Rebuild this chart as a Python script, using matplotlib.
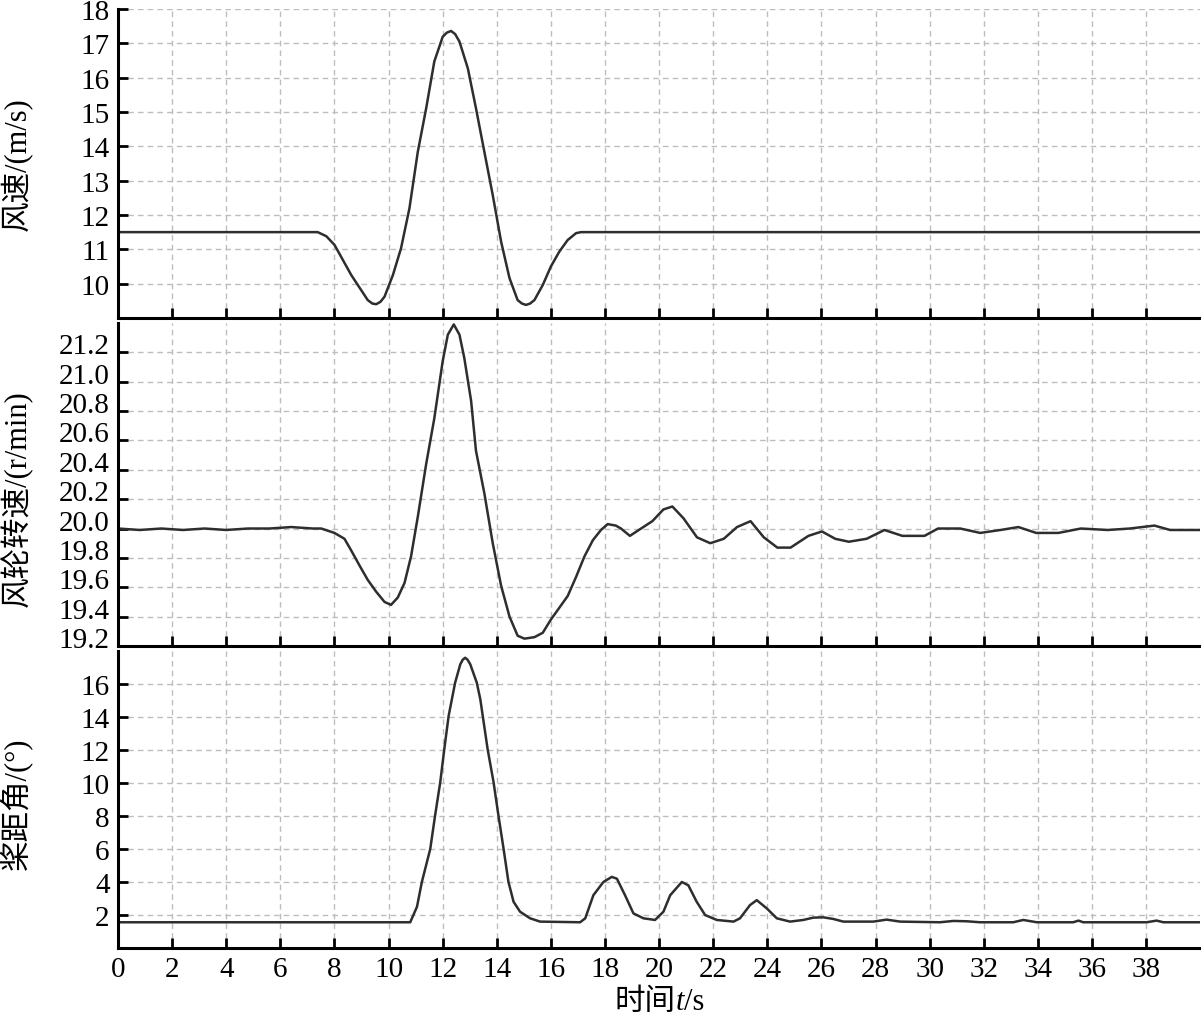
import matplotlib
matplotlib.use("Agg")
import matplotlib.pyplot as plt
import matplotlib.transforms as mtransforms
import numpy as np
from matplotlib.offsetbox import TextArea, HPacker, AnchoredOffsetbox

plt.rcParams['font.family'] = ['Liberation Serif', 'Noto Sans CJK SC']

# 风速 (m/s)
t1 = [0, 7.38, 7.7, 8.0, 8.62, 9.23, 9.4, 9.54, 9.7, 9.85, 10.16, 10.46, 10.77, 11.08, 11.39, 11.69,
      12.0, 12.15, 12.31, 12.46, 12.62, 12.93, 13.23, 13.54, 13.85, 14.16, 14.47, 14.77, 14.93, 15.08,
      15.23, 15.39, 15.7, 16.0, 16.31, 16.62, 16.93, 17.11, 40]
v1 = [11.5, 11.5, 11.38, 11.13, 10.25, 9.52, 9.42, 9.40, 9.47, 9.62, 10.25, 11.03, 12.19, 13.84, 15.11, 16.47,
      17.19, 17.31, 17.36, 17.27, 17.05, 16.27, 15.11, 13.84, 12.58, 11.22, 10.16, 9.52, 9.42, 9.38,
      9.42, 9.52, 9.96, 10.50, 10.93, 11.27, 11.47, 11.5, 11.5]

# 风轮转速 (r/min)
t2 = [0, 0.8, 1.6, 2.4, 3.2, 4.0, 4.8, 5.6, 6.4, 7.2,
      7.51, 8.0, 8.37, 8.62, 8.92, 9.23, 9.54, 9.85, 10.09, 10.34,
      10.59, 10.83, 11.08, 11.39, 11.69, 12.0, 12.19, 12.41, 12.62, 12.8,
      13.05, 13.23, 13.54, 13.85, 14.16, 14.47, 14.77, 15.02, 15.39, 15.7,
      16.0, 16.31, 16.62, 16.93, 17.24, 17.55, 17.85, 18.1, 18.4, 18.59,
      18.92, 19.25, 19.75, 20.16, 20.49, 20.9, 21.4, 21.89, 22.39, 22.88,
      23.38, 23.87, 24.37, 24.86, 25.52, 26.02, 26.51, 27.01, 27.67, 28.33,
      28.99, 29.81, 30.31, 31.13, 31.87, 32.62, 33.28, 33.94, 34.76, 35.59,
      36.58, 37.4, 38.31, 38.89, 40]
v2 = [20.0, 19.99, 20.0, 19.99, 20.0, 19.99, 20.0, 20.0, 20.01, 20.0,
      20.0, 19.97, 19.93, 19.85, 19.75, 19.65, 19.57, 19.50, 19.48, 19.53,
      19.63, 19.81, 20.08, 20.44, 20.75, 21.14, 21.32, 21.39, 21.32, 21.16,
      20.87, 20.53, 20.24, 19.90, 19.61, 19.40, 19.27, 19.25, 19.26, 19.29,
      19.38, 19.46, 19.54, 19.67, 19.81, 19.92, 19.99, 20.03, 20.02, 20.0,
      19.95, 19.99, 20.05, 20.13, 20.15, 20.07, 19.94, 19.90, 19.93, 20.01,
      20.05, 19.94, 19.87, 19.87, 19.95, 19.98, 19.93, 19.91, 19.93, 19.99,
      19.95, 19.95, 20.0, 20.0, 19.97, 19.99, 20.01, 19.97, 19.97, 20.0,
      19.99, 20.0, 20.02, 19.99, 19.99]

# 桨距角 (°)
t3 = [0, 10.80, 11.05, 11.23, 11.54, 11.72, 11.91, 12.06, 12.22, 12.46,
      12.65, 12.74, 12.83, 12.92, 13.02, 13.26, 13.39, 13.66, 13.88, 14.06, 14.25, 14.43,
      14.62, 14.86, 15.23, 15.6, 17.08, 17.27, 17.57, 17.94, 18.25, 18.44,
      18.74, 19.05, 19.42, 19.85, 20.16, 20.41, 20.84, 21.08, 21.39, 21.7,
      22.13, 22.75, 22.99, 23.36, 23.61, 23.98, 24.35, 24.84, 25.33, 25.7,
      26.07, 26.44, 26.81, 27.92, 28.41, 28.91, 30.38, 30.88, 31.37, 31.86,
      33.09, 33.46, 33.96, 35.31, 35.5, 35.68, 38.02, 38.39, 38.64, 40]
v3 = [1.56, 1.56, 2.5, 4.0, 6.0, 8.04, 10.05, 12.06, 14.07, 16.08,
      17.19, 17.47, 17.59, 17.47, 17.19, 16.08, 15.08, 12.06, 10.05, 8.04, 6.02, 4.01,
      2.8, 2.2, 1.8, 1.6, 1.56, 1.8, 3.2, 4.0, 4.31, 4.2,
      3.2, 2.1, 1.8, 1.7, 2.2, 3.2, 4.0, 3.8, 2.8, 2.0,
      1.7, 1.6, 1.8, 2.6, 2.9, 2.4, 1.8, 1.6, 1.7, 1.84,
      1.86, 1.76, 1.6, 1.6, 1.72, 1.6, 1.56, 1.64, 1.62, 1.56,
      1.56, 1.7, 1.56, 1.56, 1.66, 1.56, 1.56, 1.66, 1.56, 1.56]

ylabels = ["风速/(m/s)", "风轮转速/(r/min)", "桨距角/(°)"]
xticks = list(range(0, 40, 2))

fig = plt.figure(figsize=(12.01, 10.2), dpi=100)
ax1 = fig.add_axes([0.0983, 0.6873, 0.901, 0.3029])
ax2 = fig.add_axes([0.0983, 0.3657, 0.901, 0.3167])
ax3 = fig.add_axes([0.0983, 0.0696, 0.901, 0.2912])

line_col = "#2e2e2e"
ax1.plot(t1, v1, color=line_col, lw=1.8)
ax2.plot(t2, v2, color=line_col, lw=1.8)
ax3.plot(t3, v3, color=line_col, lw=1.8)

ax1.set_ylim(9.0, 18)
ax1.set_yticks(range(10, 19))
ax2.set_ylim(19.2, 21.4)
ax2.set_yticks(np.arange(19.2, 21.25, 0.2))
ax2.set_yticklabels(["%.1f" % v for v in np.arange(19.2, 21.25, 0.2)])
ax3.set_ylim(0, 18)
ax3.set_yticks(range(2, 18, 2))

label_y = [0.5, 0.46, 0.49]
for ax, lab, ly in zip([ax1, ax2, ax3], ylabels, label_y):
    ax.set_xlim(0, 40)
    ax.set_xticks(xticks)
    ax.grid(True, color="#bdbdbd", linestyle=(0, (4, 3)), linewidth=1.0)
    ax.spines["top"].set_visible(False)
    ax.spines["right"].set_visible(False)
    ax.spines["left"].set_linewidth(2.2)
    ax.spines["bottom"].set_linewidth(2.2)
    ax.tick_params(direction="in", length=7, width=2, labelsize=21, pad=6)
    ax.set_ylabel(lab, fontsize=22)
    ax.yaxis.set_label_coords(-0.079, ly)
    if ax is not ax3:
        ax.tick_params(labelbottom=False)

# in the original the middle panel's tick labels sit a little above their ticks
shift = mtransforms.ScaledTranslation(0, 0.09, fig.dpi_scale_trans)
for lbl in ax2.get_yticklabels():
    lbl.set_transform(lbl.get_transform() + shift)

# x label: 时间t/s with italic t
parts = [TextArea("时间", textprops=dict(fontsize=22)),
         TextArea("t", textprops=dict(fontsize=22, style="italic")),
         TextArea("/s", textprops=dict(fontsize=22))]
box = HPacker(children=parts, align="baseline", pad=0, sep=0)
xl = AnchoredOffsetbox(loc="center", child=box, frameon=False, pad=0, borderpad=0,
                       bbox_to_anchor=(0.5, -0.18), bbox_transform=ax3.transAxes)
ax3.add_artist(xl)

plt.savefig("out.png", dpi=100)
